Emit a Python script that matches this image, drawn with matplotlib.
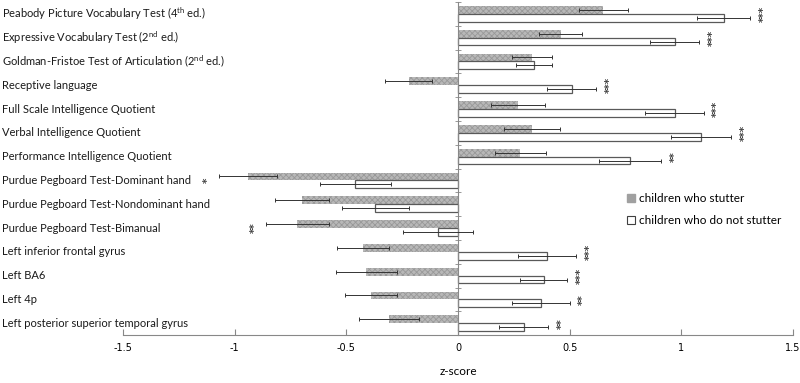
import numpy as np
import matplotlib
matplotlib.use("Agg")
import matplotlib.pyplot as plt
from matplotlib.patches import Patch

plt.rcParams['font.family'] = ['Lato', 'DejaVu Sans']
plt.rcParams['mathtext.fontset'] = 'custom'
plt.rcParams['mathtext.rm'] = 'Lato'
plt.rcParams['hatch.linewidth'] = 0.6

measures = [
    'Peabody Picture Vocabulary Test (4$^{\\mathrm{th}}$ ed.)',
    'Expressive Vocabulary Test (2$^{\\mathrm{nd}}$ ed.)',
    'Goldman-Fristoe Test of Articulation (2$^{\\mathrm{nd}}$ ed.)',
    'Receptive language',
    'Full Scale Intelligence Quotient',
    'Verbal Intelligence Quotient',
    'Performance Intelligence Quotient',
    'Purdue Pegboard Test-Dominant hand',
    'Purdue Pegboard Test-Nondominant hand',
    'Purdue Pegboard Test-Bimanual',
    'Left inferior frontal gyrus',
    'Left BA6',
    'Left 4p',
    'Left posterior superior temporal gyrus',
]
# z-scores, children who stutter (CWS) / who do not stutter (CWNS)
cws = [0.65, 0.46, 0.33, -0.22, 0.27, 0.33, 0.28, -0.94, -0.70, -0.72, -0.425, -0.41, -0.39, -0.31]
cws_err = [0.11, 0.095, 0.09, 0.105, 0.12, 0.125, 0.115, 0.13, 0.12, 0.14, 0.115, 0.135, 0.115, 0.135]
cwns = [1.19, 0.97, 0.34, 0.51, 0.97, 1.09, 0.77, -0.46, -0.37, -0.09, 0.40, 0.385, 0.37, 0.295]
cwns_err = [0.12, 0.11, 0.08, 0.11, 0.13, 0.135, 0.14, 0.16, 0.15, 0.155, 0.13, 0.105, 0.13, 0.11]
stars = ['***', '***', '', '***', '***', '***', '**', '*', '', '**', '***', '***', '**', '**']

fig = plt.figure(figsize=(8, 3.83), dpi=100)
ax = fig.add_axes([0.154, 0.125, 0.837, 0.87])

y = np.arange(len(measures))
h = 0.33

ax.barh(y - h / 2, cws, height=h, color='#b8b8b8', edgecolor='#999999',
        linewidth=0, hatch='xxxxxx', zorder=2)
ax.barh(y + h / 2, cwns, height=h, color='white', edgecolor='#595959',
        linewidth=0.9, zorder=2)
ax.errorbar(cws, y - h / 2, xerr=cws_err, fmt='none', ecolor='#333333',
            elinewidth=0.7, capsize=1.5, capthick=0.7, zorder=3)
ax.errorbar(cwns, y + h / 2, xerr=cwns_err, fmt='none', ecolor='#333333',
            elinewidth=0.7, capsize=1.5, capthick=0.7, zorder=3)

# significance markers, stacked vertically beyond the outer error bar
for i, s in enumerate(stars):
    if not s:
        continue
    hi = max(cws[i] + cws_err[i], cwns[i] + cwns_err[i])
    lo = min(cws[i] - cws_err[i], cwns[i] - cwns_err[i])
    if cws[i] < 0 and cwns[i] < 0:
        xs = lo - 0.05
    else:
        xs = hi + 0.06
    ax.text(xs, y[i], s, rotation=90, ha='center', va='center',
            fontsize=7.5, fontweight='bold', color='#404040', family='DejaVu Sans')

# category labels at the left edge of the figure
for i, m in enumerate(measures):
    ax.text(-0.181, y[i], m, transform=ax.get_yaxis_transform(),
            ha='left', va='center', fontsize=8, color='#1a1a1a')

ax.set_xlim(-1.5, 1.5)
ax.set_ylim(len(measures) - 0.5, -0.5)
ax.set_xticks([-1.5, -1, -0.5, 0, 0.5, 1, 1.5])
ax.set_xticklabels(['-1.5', '-1', '-0.5', '0', '0.5', '1', '1.5'],
                   fontsize=7, family='DejaVu Sans')
ax.tick_params(axis='x', direction='in', length=4, color='#888888', pad=6)
ax.set_xlabel('z-score', fontsize=8.5, labelpad=9)

ax.spines['top'].set_visible(False)
ax.spines['right'].set_visible(False)
ax.spines['bottom'].set_color('#888888')
ax.spines['left'].set_position(('data', 0))
ax.spines['left'].set_color('#888888')
ax.set_yticks([])
ax.set_yticks(np.arange(len(measures) + 1) - 0.5, minor=True)
ax.tick_params(axis='y', which='minor', direction='inout', length=4,
               color='#888888', labelleft=False)

handles = [Patch(facecolor='#a0a0a0', edgecolor='#a0a0a0', label='children who stutter'),
           Patch(facecolor='white', edgecolor='#404040', linewidth=0.8,
                 label='children who do not stutter')]
ax.legend(handles=handles, loc='upper left', bbox_to_anchor=(0.745, 0.44),
          frameon=False, fontsize=8.5, handlelength=0.7, handleheight=0.7,
          handletextpad=0.3, labelspacing=0.9, borderaxespad=0)

fig.savefig('out.png', dpi=100)
